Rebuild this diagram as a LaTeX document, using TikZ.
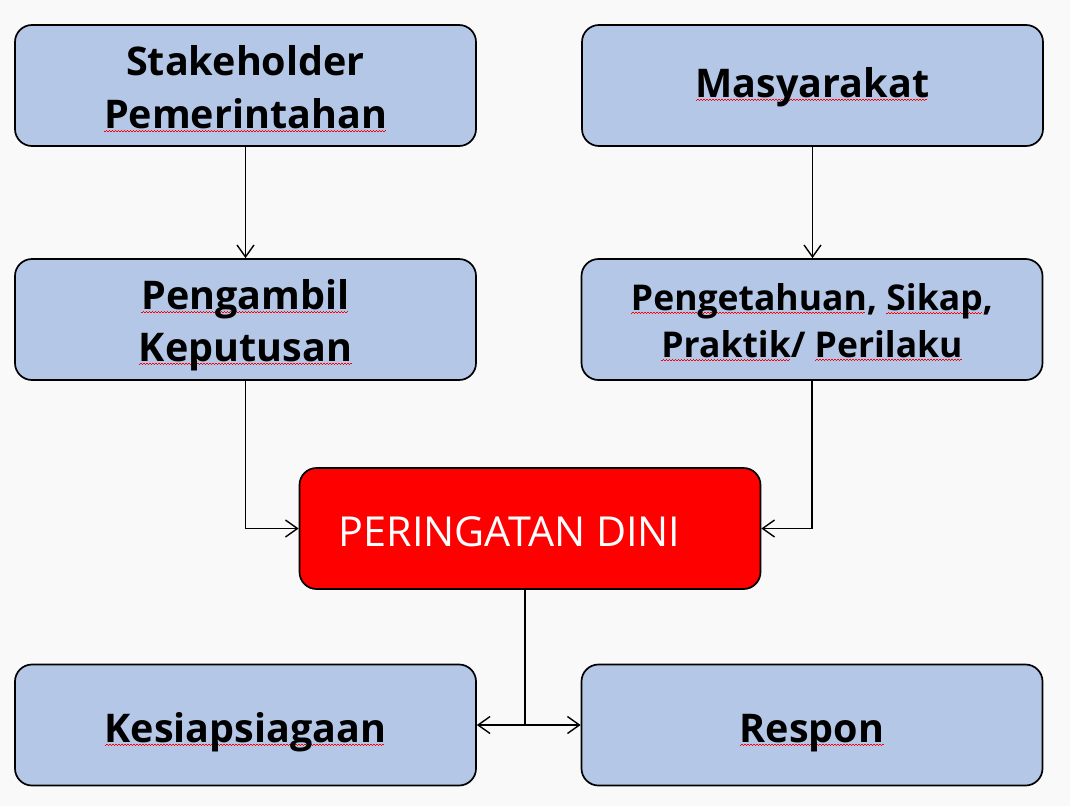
\documentclass[tikz,border=0pt]{standalone}
\usepackage{fontspec}
\setmainfont{Open Sans}
\usetikzlibrary{arrows.meta}
\newsavebox\sqbox
\newcommand\sqwave{\leaders\hbox{\rule[0pt]{1.5pt}{0.8pt}\rule[1.1pt]{1.5pt}{0.8pt}}\hfill}
\newcommand\sq[1]{\sbox\sqbox{#1}\leavevmode\rlap{\color{red}\raisebox{-3.5pt}{\hbox to \wd\sqbox{\sqwave}}}\usebox\sqbox}
\newcommand\st[2]{\rule[-#2pt]{0pt}{\dimexpr#1pt+#2pt\relax}}
\definecolor{bgc}{HTML}{F9F9F9}
\definecolor{boxc}{HTML}{B4C7E7}
\definecolor{redc}{HTML}{FF0000}
\tikzset{
  box/.style={draw=black, line width=1.7pt, rounded corners=17pt, fill=boxc,
    minimum width=461pt, minimum height=121pt, align=center, inner sep=0pt,
    font=\bfseries\fontsize{39.5}{53}\selectfont},
  alertbox/.style={box, fill=redc, text=white, font=\fontsize{41.3}{53}\selectfont},
  conn/.style={line width=1.4pt, -{Straight Barb[length=12pt,width=17pt,line width=1.4pt]}},
  plain/.style={line width=1.4pt}
}
\begin{document}
\begin{tikzpicture}[x=1pt,y=-1pt]
\fill[bgc] (0,0) rectangle (1070,806);
\useasboundingbox (0,0) rectangle (1070,806);
\node[box] (s) at (245.5,85.5) {\st{42}{10}Stakeholder\\\st{42}{10}\sq{Pemerintahan}};
\node[box] (m) at (812.5,85.5) {\st{33}{10}\sq{Masyarakat}};
\node[box, font=\bfseries\fontsize{39.5}{52}\selectfont] (pk) at (245.5,319.5) {\st{42}{9}\sq{Pengambil}\\\st{42}{9}\sq{Keputusan}};
\node[box, font=\bfseries\fontsize{35.5}{47}\selectfont] (ps) at (812,319.5) {\st{37}{9}\sq{Pengetahuan}, \sq{Sikap},\\\st{37}{9}\sq{Praktik}/ \sq{Perilaku}};
\node[alertbox] (pd) at (530,528.5) {\st{45}{10}PERINGATAN DINI\hspace*{41pt}};
\node[box] (k) at (245.5,725) {\st{44}{10}\sq{Kesiapsiagaan}};
\node[box] (r) at (812,725) {\st{44}{10}\sq{Respon}};
\coordinate (j) at (525,725);
\draw[conn] (s) -- (pk);
\draw[conn] (m.south) -- (m.south |- ps.north);
\draw[conn] (pk.south) |- (pd.west);
\draw[conn] (ps.south) |- (pd.east);
\draw[plain] (pd.south -| j) -- (j);
\draw[conn] (j) -- (k.east);
\draw[conn] (j) -- (r.west);
\end{tikzpicture}
\end{document}
